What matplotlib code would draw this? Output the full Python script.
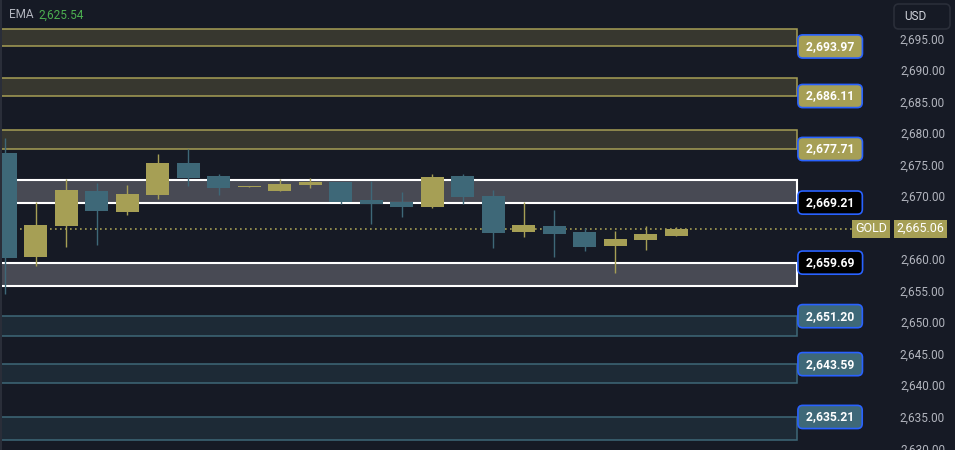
import numpy as np
import matplotlib.pyplot as plt
from matplotlib.patches import Rectangle, FancyBboxPatch

plt.rcParams['font.family'] = ['Roboto', 'DejaVu Sans']

# candles
opens = [2677.03, 2660.63, 2665.55, 2671.05, 2667.77, 2670.46, 2675.49, 2673.43,
         2671.75, 2671.10, 2672.05, 2672.48, 2669.62, 2669.31, 2668.51, 2673.43,
         2670.26, 2664.60, 2665.50, 2664.55, 2662.38, 2663.33, 2663.96]
highs = [2679.41, 2669.35, 2672.95, 2672.32, 2672.00, 2676.92, 2677.71, 2673.75,
         2671.90, 2672.95, 2673.11, 2672.55, 2672.64, 2670.89, 2673.75, 2673.75,
         2671.21, 2669.31, 2668.04, 2665.18, 2664.75, 2665.50, 2665.34]
lows = [2654.67, 2659.20, 2662.22, 2662.49, 2667.29, 2669.83, 2671.89, 2670.46,
        2671.72, 2671.10, 2671.57, 2668.99, 2665.82, 2666.97, 2668.35, 2668.99,
        2662.06, 2663.80, 2660.63, 2661.58, 2658.09, 2661.74, 2663.96]
closes = [2660.47, 2665.66, 2671.21, 2667.93, 2670.58, 2675.49, 2673.16, 2671.57,
          2671.88, 2672.16, 2672.48, 2669.35, 2669.04, 2668.51, 2673.27, 2670.10,
          2664.44, 2665.66, 2664.28, 2662.22, 2663.44, 2664.23, 2664.95]

# zones: bottom, top, labelled level, kind
zone_bottoms = [2693.97, 2686.11, 2677.71, 2669.21, 2655.94, 2648.05, 2640.60, 2631.51]
zone_tops = [2696.75, 2689.00, 2680.73, 2672.75, 2659.69, 2651.20, 2643.59, 2635.21]
zone_levels = [2693.97, 2686.11, 2677.71, 2669.21, 2659.69, 2651.20, 2643.59, 2635.21]
zone_kinds = ['res', 'res', 'res', 'key', 'key', 'sup', 'sup', 'sup']

# 2,665.00 sits under the last price label, so it is not shown
price_ticks = [2630, 2635, 2640, 2645, 2650, 2655, 2660,
               2670, 2675, 2680, 2685, 2690, 2695]
last_price = 2665.06
ema_value = 2625.54

BG = '#161a25'
UP = '#a69f55'
DOWN = '#3e6878'
zone_fill = {'res': '#37372f', 'key': '#484a54', 'sup': '#1d2a36'}
zone_edge = {'res': '#a69f55', 'key': '#ffffff', 'sup': '#3e6878'}
label_fill = {'res': '#a69f55', 'key': '#000000', 'sup': '#3e6878'}

W, H = 955, 450
step = 30.5  # pixels per candle
fig = plt.figure(figsize=(W / 100, H / 100), dpi=100)
fig.patch.set_facecolor(BG)
ax = fig.add_axes([0, 0, 1, 1])
ax.set_facecolor(BG)
for s in ax.spines.values():
    s.set_visible(False)
ax.set_xticks([])
ax.set_yticks([])
ax.set_xlim(-5 / step, (W - 5) / step)
ax.set_ylim(2629.97, 2701.34)

yax = ax.get_yaxis_transform()

# zones
zone_right = (797 - 5) / step
for b, t, k in zip(zone_bottoms, zone_tops, zone_kinds):
    lw = 1.5 if k == 'key' else 1.1
    ax.add_patch(Rectangle((-2, b), zone_right + 2, t - b, facecolor=zone_fill[k],
                           edgecolor=zone_edge[k], lw=lw, zorder=1))

# last price dotted line
ax.axhline(last_price, xmin=0, xmax=852 / W, color=UP, lw=1.2, ls=(0, (1, 2)), zorder=2)

# candles
x = np.arange(len(opens))
o = np.array(opens)
c = np.array(closes)
cols = [UP if cc >= oo else DOWN for oo, cc in zip(o, c)]
ax.vlines(x, lows, highs, colors=cols, lw=1, zorder=3)
ax.bar(x, c - o, bottom=o, width=23 / step, color=cols, lw=0, zorder=4)

# price scale
for v in price_ticks:
    ax.text(945 / W, v, f'{v:,.2f}', transform=yax, ha='right', va='center',
            color='#b2b5be', fontsize=8.5, zorder=5)

# zone labels
for lv, k in zip(zone_levels, zone_kinds):
    ax.text(803 / W, lv, f' {lv:,.2f} ', transform=yax, ha='left', va='center',
            color='white', fontsize=8.7, fontweight='bold', zorder=6,
            bbox=dict(boxstyle='round,pad=0.42,rounding_size=0.4',
                      fc=label_fill[k], ec='#2962ff', lw=1.2))

# last price label
ax.text(871 / W, last_price, 'GOLD', transform=yax, ha='center', va='center',
        color='white', fontsize=9, zorder=7,
        bbox=dict(boxstyle='square,pad=0.22', fc=UP, ec='none'))
ax.text(920.5 / W, last_price, f'{last_price:,.2f}', transform=yax, ha='center',
        va='center', color='white', fontsize=9, zorder=7,
        bbox=dict(boxstyle='square,pad=0.22', fc=UP, ec='none'))

# left border strip
ax.add_patch(Rectangle((0, 0), 2 / W, 1, transform=ax.transAxes,
                       facecolor='#2a2e39', lw=0, zorder=8))

# header
fig.text(9 / W, 1 - 15 / H, 'EMA', color='#b2b5be', fontsize=8.5, va='center')
fig.text(38 / W, 1 - 15 / H, f'{ema_value:,.2f}', color='#4caf50', fontsize=8.5,
         va='center')

fig.patches.append(FancyBboxPatch((894 / W, 1 - 29 / H), 56 / W, 25 / H,
                                  boxstyle='round,pad=0,rounding_size=0.005',
                                  mutation_aspect=W / H, transform=fig.transFigure,
                                  facecolor=BG, edgecolor='#2a2e39', lw=1.2))
fig.text(904 / W, 1 - 16.5 / H, 'USD', color='#d1d4dc', fontsize=8.5, va='center')

fig.savefig('out.png', dpi=100, facecolor=BG)
